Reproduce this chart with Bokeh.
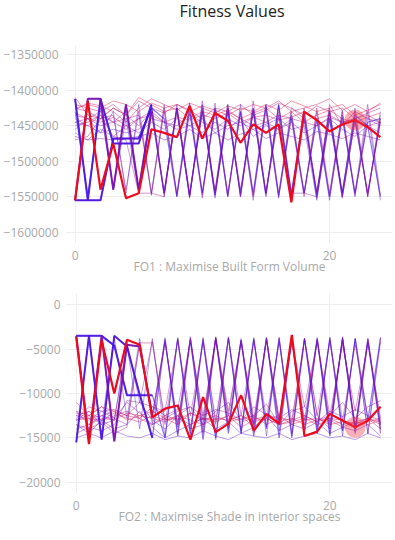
from bokeh.plotting import figure
from bokeh.models import Range1d, FixedTicker, BasicTickFormatter
from bokeh.core.properties import value
from bokeh.layouts import column
from bokeh.embed import file_html
from bokeh.resources import INLINE

# ---------------- data ----------------
generations = list(range(25))
x_ticks = [0, 20]
fo1_ticks = [-1600000, -1550000, -1500000, -1450000, -1400000, -1350000]
fo2_ticks = [-20000, -15000, -10000, -5000, 0]
highlight_gen = [22]
early_gens = 7

title_text = ["Fitness Values"]
fo1_label = "FO1 : Maximise Built Form Volume"
fo2_label = "FO2 : Maximise Shade in interior spaces"

fo1_t01 = [-1465000, -1470000, -1468000, -1470000, -1468000, -1465000, -1460000, -1470000, -1465000, -1455000, -1468000, -1460000, -1470000, -1462000, -1455000, -1468000, -1460000, -1465000, -1470000, -1458000, -1462000, -1468000, -1460000, -1465000, -1470000]
fo1_t02 = [-1430000, -1545000, -1425000, -1540000, -1440000, -1545000, -1425000, -1550000, -1420000, -1545000, -1428000, -1552000, -1425000, -1548000, -1430000, -1545000, -1422000, -1550000, -1435000, -1548000, -1440000, -1552000, -1445000, -1545000, -1440000]
fo1_t03 = [-1455000, -1440000, -1460000, -1430000, -1545000, -1420000, -1548000, -1425000, -1550000, -1418000, -1545000, -1430000, -1550000, -1420000, -1548000, -1428000, -1552000, -1430000, -1545000, -1440000, -1555000, -1435000, -1550000, -1430000, -1555000]
fo1_t04 = [-1445000, -1450000, -1460000, -1455000, -1460000, -1455000, -1440000, -1445000, -1455000, -1450000, -1440000, -1460000, -1450000, -1445000, -1455000, -1448000, -1440000, -1455000, -1450000, -1555000, -1430000, -1545000, -1425000, -1550000, -1430000]
fo1_t05 = [-1460000, -1470000, -1455000, -1465000, -1450000, -1460000, -1445000, -1455000, -1440000, -1450000, -1460000, -1445000, -1455000, -1440000, -1465000, -1450000, -1455000, -1445000, -1460000, -1450000, -1440000, -1455000, -1465000, -1450000, -1460000]
fo1_t06 = [-1445000, -1440000, -1450000, -1445000, -1430000, -1540000, -1420000, -1545000, -1425000, -1550000, -1415000, -1545000, -1425000, -1540000, -1432000, -1545000, -1420000, -1545000, -1545000, -1550000, -1425000, -1545000, -1430000, -1550000, -1435000]
fo1_t07 = [-1470000, -1465000, -1440000, -1435000, -1540000, -1430000, -1545000, -1420000, -1548000, -1425000, -1552000, -1418000, -1548000, -1430000, -1555000, -1425000, -1550000, -1440000, -1545000, -1430000, -1550000, -1428000, -1545000, -1420000, -1548000]
fo1_t08 = [-1440000, -1450000, -1435000, -1445000, -1455000, -1440000, -1430000, -1445000, -1450000, -1435000, -1445000, -1455000, -1440000, -1450000, -1438000, -1445000, -1455000, -1440000, -1445000, -1450000, -1438000, -1445000, -1440000, -1450000, -1445000]
fo1_t09 = [-1425000, -1430000, -1440000, -1425000, -1435000, -1450000, -1430000, -1545000, -1425000, -1548000, -1430000, -1540000, -1420000, -1550000, -1415000, -1545000, -1430000, -1548000, -1425000, -1545000, -1420000, -1450000, -1430000, -1440000, -1445000]
fo1_t10 = [-1435000, -1440000, -1430000, -1445000, -1440000, -1435000, -1545000, -1430000, -1545000, -1420000, -1548000, -1425000, -1545000, -1430000, -1550000, -1420000, -1545000, -1425000, -1440000, -1545000, -1430000, -1550000, -1440000, -1548000, -1440000]
fo1_t11 = [-1450000, -1445000, -1435000, -1465000, -1470000, -1545000, -1545000, -1550000, -1430000, -1552000, -1425000, -1548000, -1430000, -1440000, -1450000, -1445000, -1435000, -1440000, -1550000, -1425000, -1545000, -1430000, -1548000, -1440000, -1450000]
fo1_t12 = [-1420000, -1425000, -1430000, -1420000, -1435000, -1415000, -1425000, -1432000, -1420000, -1428000, -1440000, -1425000, -1430000, -1420000, -1435000, -1428000, -1418000, -1425000, -1435000, -1422000, -1430000, -1425000, -1440000, -1432000, -1425000]
fo1_t13 = [-1428000, -1418000, -1422000, -1430000, -1445000, -1425000, -1412000, -1420000, -1428000, -1418000, -1425000, -1432000, -1422000, -1428000, -1420000, -1425000, -1415000, -1430000, -1425000, -1420000, -1412000, -1428000, -1420000, -1430000, -1418000]
fo1_t14 = [-1432000, -1440000, -1445000, -1438000, -1450000, -1440000, -1435000, -1445000, -1438000, -1442000, -1435000, -1440000, -1432000, -1445000, -1438000, -1435000, -1442000, -1438000, -1430000, -1440000, -1435000, -1445000, -1440000, -1435000, -1445000]
fo1_t15 = [-1425000, -1420000, -1425000, -1415000, -1420000, -1430000, -1418000, -1425000, -1420000, -1430000, -1422000, -1428000, -1435000, -1425000, -1430000, -1420000, -1428000, -1415000, -1422000, -1430000, -1425000, -1420000, -1435000, -1428000, -1420000]
fo1_t16 = [-1410000, -1435000, -1440000, -1425000, -1435000, -1410000, -1420000, -1430000, -1425000, -1440000, -1430000, -1435000, -1428000, -1440000, -1432000, -1425000, -1440000, -1430000, -1445000, -1435000, -1428000, -1440000, -1445000, -1438000, -1432000]
fo1_k1 = [-1412000, -1555000, -1412000, -1475000, -1475000, -1475000, -1420000, -1545000, -1425000, -1550000, -1420000, -1548000, -1430000, -1545000, -1425000, -1550000, -1420000, -1545000, -1430000, -1552000, -1440000, -1545000, -1435000, -1450000, -1550000]
fo1_k2 = [-1555000, -1555000, -1555000, -1468000, -1468000, -1468000, -1425000, -1440000, -1550000, -1430000, -1545000, -1425000, -1550000, -1430000, -1545000, -1420000, -1548000, -1435000, -1545000, -1440000, -1550000, -1438000, -1545000, -1445000, -1440000]
fo1_k3 = [-1555000, -1412000, -1412000, -1540000, -1420000, -1540000, -1430000, -1545000, -1425000, -1548000, -1430000, -1545000, -1420000, -1550000, -1425000, -1545000, -1435000, -1548000, -1440000, -1545000, -1430000, -1550000, -1440000, -1545000, -1445000]
fo1_best = [-1555000, -1415000, -1540000, -1475000, -1552000, -1545000, -1455000, -1460000, -1466000, -1422000, -1468000, -1432000, -1443000, -1474000, -1448000, -1460000, -1448000, -1558000, -1430000, -1442000, -1458000, -1448000, -1442000, -1452000, -1466000]

fo2_t01 = [-15000, -14500, -15000, -14200, -14800, -15000, -14500, -15200, -14800, -15000, -14200, -14800, -15200, -14500, -14800, -15000, -14500, -15200, -14800, -14500, -15000, -14800, -15200, -14500, -15000]
fo2_t02 = [-13000, -12000, -13500, -3700, -12800, -3800, -13500, -3700, -14500, -3600, -13800, -3700, -14000, -3800, -13500, -3700, -14200, -3800, -13000, -3700, -14500, -3600, -14000, -3800, -13500]
fo2_t03 = [-14000, -13500, -12500, -13000, -4500, -14000, -3800, -15000, -3700, -14800, -3800, -15200, -3600, -14500, -3700, -14800, -3700, -15000, -3800, -14200, -3700, -14800, -3800, -14500, -3700]
fo2_t04 = [-13500, -14500, -13000, -14000, -13500, -12000, -13800, -15000, -14200, -13500, -12800, -14000, -13200, -14500, -13800, -12500, -14200, -13500, -14000, -13200, -14500, -13800, -14200, -13500, -14800]
fo2_t05 = [-14500, -13800, -14200, -13500, -10800, -11000, -13000, -14000, -12500, -11500, -13500, -12000, -11000, -13000, -12500, -11200, -13500, -12000, -11500, -13000, -12500, -11000, -12800, -11500, -10800]
fo2_t06 = [-12500, -13000, -12000, -12800, -13500, -4200, -12500, -4000, -13800, -3800, -13000, -3900, -12500, -4000, -13500, -3800, -12800, -4100, -13500, -4000, -14000, -3900, -13800, -4000, -13500]
fo2_t07 = [-13000, -12500, -13500, -13000, -4200, -11000, -4100, -13500, -3900, -14000, -3700, -13500, -3800, -14200, -4000, -13800, -3700, -14500, -3900, -13800, -4000, -14200, -3800, -14500, -4200]
fo2_t08 = [-12000, -12500, -11500, -12800, -11000, -12200, -13500, -12800, -12000, -11500, -12500, -11800, -12200, -13000, -11500, -12400, -12800, -11800, -12500, -13200, -12000, -12600, -11800, -12500, -13000]
fo2_t09 = [-12800, -11500, -12000, -11800, -12500, -11000, -11500, -12500, -11800, -4000, -12500, -3800, -12000, -4200, -12800, -3900, -13000, -4000, -11500, -4100, -12500, -4500, -12000, -4300, -12800]
fo2_t10 = [-12200, -12800, -13000, -12500, -12000, -12800, -11500, -12000, -4000, -12500, -4200, -13000, -3800, -12500, -4000, -12800, -4200, -13500, -3800, -12500, -4000, -13000, -4500, -12800, -11500]
fo2_t11 = [-13500, -14000, -13200, -14500, -13800, -4300, -4300, -13000, -12500, -14000, -13500, -3600, -13000, -12500, -13800, -12800, -13500, -13000, -3800, -12500, -14000, -3800, -13500, -12800, -14000]
fo2_t12 = [-12500, -12000, -13000, -12200, -12800, -13200, -12500, -13000, -12800, -13500, -12800, -13200, -12500, -13800, -13000, -12500, -13200, -12800, -13500, -13000, -12800, -13500, -13200, -12800, -13500]
fo2_t13 = [-13000, -12800, -12500, -12000, -12500, -12800, -13500, -12500, -13000, -12200, -13000, -12500, -13200, -12800, -12500, -13500, -12800, -13000, -12500, -13200, -12800, -13000, -13500, -12800, -13200]
fo2_t14 = [-12000, -13500, -12800, -13000, -12200, -12500, -12800, -13200, -12500, -13000, -13500, -12800, -13000, -12500, -13200, -12800, -13500, -13200, -12800, -13500, -13000, -13800, -13200, -13500, -13000]
fo2_t15 = [-11000, -12500, -11500, -12000, -13000, -12500, -12000, -12800, -13500, -12200, -12800, -13000, -12500, -13200, -12800, -13000, -12500, -13500, -13000, -12800, -13500, -13200, -13800, -13200, -12800]
fo2_k1 = [-3500, -3500, -3500, -4600, -10200, -10200, -10200, -15000, -3800, -14500, -4000, -15000, -3700, -14500, -3800, -14000, -3900, -14800, -3800, -14500, -3700, -14200, -3800, -13000, -3700]
fo2_k2 = [-15500, -3500, -15200, -3500, -4700, -10100, -15000, -3900, -14800, -4000, -15200, -3800, -14500, -4000, -14800, -3700, -15000, -3800, -14500, -3900, -14800, -3700, -14500, -4200, -14000]
fo2_k3 = [-3500, -15200, -3500, -15400, -4500, -4700, -12500, -4200, -13500, -3800, -14500, -3700, -13800, -4000, -14000, -3900, -13500, -3700, -14200, -3800, -13500, -3900, -14000, -3800, -14500]
fo2_best = [-3650, -15700, -4000, -10000, -3950, -4500, -12700, -11700, -11350, -15200, -10400, -14350, -13400, -10200, -14200, -12300, -13400, -3400, -14800, -14300, -12300, -13050, -13800, -13050, -11500]

fo1_thin = [fo1_t01, fo1_t02, fo1_t03, fo1_t04, fo1_t05, fo1_t06, fo1_t07, fo1_t08,
            fo1_t09, fo1_t10, fo1_t11, fo1_t12, fo1_t13, fo1_t14, fo1_t15, fo1_t16]
fo1_thick = [fo1_k1, fo1_k2, fo1_k3]
fo2_thin = [fo2_t01, fo2_t02, fo2_t03, fo2_t04, fo2_t05, fo2_t06, fo2_t07, fo2_t08,
            fo2_t09, fo2_t10, fo2_t11, fo2_t12, fo2_t13, fo2_t14, fo2_t15]
fo2_thick = [fo2_k1, fo2_k2, fo2_k3]

# ---------------- styles ----------------
FONT = "Open Sans"
TICK_COLOR = "#a8a8a8"
GRID_COLOR = "#eeeeee"
W = 394
fo1_thin_mix = [0.22, 0.05, 0.1, 0.15, 0.28, 0.3, 0.35, 0.42, 0.45, 0.5, 0.55, 0.62, 0.72, 0.78, 0.88, 0.93]
fo2_thin_mix = [0.12, 0.05, 0.1, 0.2, 0.25, 0.3, 0.35, 0.45, 0.5, 0.55, 0.6, 0.68, 0.78, 0.86, 0.92]
thick_mix = [0.0, 0.04, 0.3]


def mix(t):
    r = int(70 + 170 * t)
    g = int(20 - 15 * t)
    b = int(230 - 190 * t)
    return "#%02x%02x%02x" % (r, g, b)


def make_fig(height, border_left, border_top, border_bottom, xr, yr, yticks, xlabel, ystand):
    p = figure(width=W, height=height, output_backend="svg", toolbar_location=None,
               x_range=Range1d(*xr), y_range=Range1d(*yr),
               min_border_left=border_left, min_border_right=2,
               min_border_top=border_top, min_border_bottom=border_bottom)
    p.outline_line_color = None
    p.background_fill_color = "white"
    p.border_fill_color = "white"
    for ax in (p.xaxis[0], p.yaxis[0]):
        ax.axis_line_color = None
        ax.major_tick_line_color = None
        ax.minor_tick_line_color = None
        ax.major_tick_out = 0
        ax.major_tick_in = 0
        ax.minor_tick_out = 0
        ax.minor_tick_in = 0
        ax.major_label_text_color = TICK_COLOR
        ax.major_label_text_font = FONT
        ax.major_label_text_font_size = "12px"
    p.xaxis.ticker = FixedTicker(ticks=x_ticks)
    p.yaxis.ticker = FixedTicker(ticks=yticks)
    p.yaxis.formatter = BasicTickFormatter(use_scientific=False)
    p.yaxis.major_label_standoff = ystand
    p.xaxis.major_label_standoff = 7
    p.xaxis.axis_label = xlabel
    p.xaxis.axis_label_text_font = FONT
    p.xaxis.axis_label_text_font_style = "normal"
    p.xaxis.axis_label_text_font_size = "12px"
    p.xaxis.axis_label_text_color = TICK_COLOR
    p.xaxis.axis_label_standoff = -5
    p.xgrid.grid_line_color = GRID_COLOR
    p.ygrid.grid_line_color = GRID_COLOR
    return p


def draw(p, thin, thin_mix, thick, best):
    for ys, t in zip(thin, thin_mix):
        p.line(generations, ys, line_color=mix(t), line_width=1, line_alpha=0.42)
    for ys, t in zip(thick, thick_mix):
        p.line(generations, ys, line_color=mix(t), line_width=1.2, line_alpha=0.6)
        p.line(generations[:early_gens], ys[:early_gens], line_color=mix(t),
               line_width=2, line_alpha=0.9)
    p.line(generations, best, line_color="#ee0a1e", line_width=2.2, line_alpha=1)
    p.scatter(highlight_gen, [best[g] for g in highlight_gen], size=21,
              fill_color="#f03848", fill_alpha=0.4, line_color=None)


# title strip (page y 0..30)
p0 = figure(width=W, height=30, output_backend="svg", toolbar_location=None, title=None,
            x_range=Range1d(0, W), y_range=Range1d(0, 30),
            min_border_left=0, min_border_right=0, min_border_top=0, min_border_bottom=0)
p0.axis.visible = False
p0.grid.visible = False
p0.outline_line_color = None
p0.text(x=[200], y=[19.5], text=title_text, text_align="center", text_baseline="alphabetic",
        text_font=value(FONT), text_font_size="16px", text_color="#222222")

# top chart: page y 30..280, frame x 62..392, y 45..243
p1 = make_fig(250, 62, 15, 37, (-0.675, 24.95), (-1615900, -1336900), fo1_ticks, fo1_label, 8)
draw(p1, fo1_thin, fo1_thin_mix, fo1_thick, fo1_best)

# bottom chart: page y 280..538, frame x 47..392, y 293..493
p2 = make_fig(258, 47, 13, 45, (-0.77, 24.94), (-21275, 1275), fo2_ticks, fo2_label, 6)
draw(p2, fo2_thin, fo2_thin_mix, fo2_thick, fo2_best)

layout = column(p0, p1, p2, spacing=0)
open("out.html", "w").write(file_html(layout, INLINE))
